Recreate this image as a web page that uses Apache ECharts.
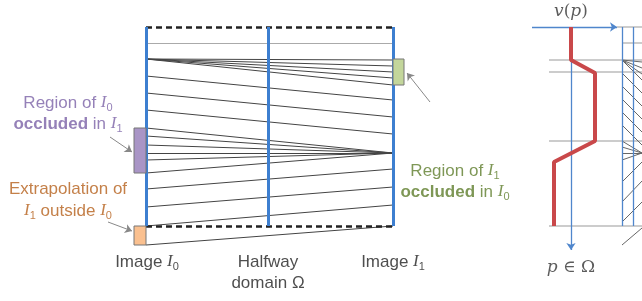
<!DOCTYPE html>
<html>
<head>
<meta charset="utf-8">
<title>Halfway domain correspondences</title>
<script src="https://cdn.jsdelivr.net/npm/echarts@6/dist/echarts.min.js"></script>
<style>
  html, body { margin: 0; padding: 0; background: #fff; }
  #main { width: 642px; height: 301px; }
</style>
</head>
<body>
<div id="main"></div>
<script>
// rows of image I0 (left edge) and where they land in image I1 (right edge)
var rowsI0 = [43, 59, 59, 59, 59, 59, 76, 93, 110, 128, 136, 145, 153, 160, 173, 189, 207, 226, 245];
var rowsI1 = [43, 60, 66, 72, 78, 85, 100, 117, 134, 153, 153, 153, 153, 153, 153, 169, 187, 205, 226];
// columns: image I0, halfway domain, image I1
var columns = [146, 268, 393];
var domainRows = [27, 226];

// velocity profile v(p) along p
var profileP = [27, 60, 73, 141, 162, 226];
var profileV = [571, 571, 595, 595, 554, 554];
var profileRows = [60, 72, 141, 226];

// clipped copy of the diagram at the right edge
var hatchFrom = [60, 60, 60, 60, 73, 86, 99, 112, 125, 141, 147, 153, 160, 182, 202, 222, 245];
var hatchTo = [62, 68, 74, 80, 93, 106, 119, 132, 145, 153, 153, 153, 153, 162, 181, 202, 228];

var C = { x0: columns[0], x1: columns[2] };

var matchLines = rowsI0.map(function (y, i) {
    return {
        coords: [[C.x0, y], [C.x1, rowsI1[i]]],
        lineStyle: i === 0 ? { color: '#aaa', width: 1.2 } : {}
    };
});

var blueCols = columns.map(function (x) {
    return { coords: [[x, domainRows[0]], [x, domainRows[1]]] };
});

var dashRows = domainRows.map(function (y) {
    return { coords: [[C.x0, y], [C.x1, y]] };
});

var hatch = hatchFrom.map(function (y, i) {
    return { coords: [[622, y], [642, hatchTo[i]]] };
});

var sub = function (d) { return '{it|I}{sub|' + d + '}'; };

function richFor(color) {
    return {
        it: { fontStyle: 'italic', color: color, fontSize: 17, fontFamily: 'Liberation Serif' },
        sub: { color: color, fontSize: 11, padding: [9, 0, 0, 0], fontFamily: 'Liberation Sans' },
        b: { fontWeight: 'bold', color: color, fontSize: 17 },
        t: { color: color, fontSize: 17 }
    };
}

var purple = '#7b62a6', brown = '#b5601c', green = '#5e7d2c', ink = '#222';

var texts = [
    { value: [68, 103], f: '{t|Region of }' + sub(0), c: purple },
    { value: [68, 124], f: '{b|occluded}{t| in }' + sub(1), c: purple },
    { value: [68, 189], f: '{t|Extrapolation of}', c: brown },
    { value: [68, 211], f: sub(1) + '{t| outside }' + sub(0), c: brown },
    { value: [455, 171], f: '{t|Region of }' + sub(1), c: green },
    { value: [455, 192], f: '{b|occluded}{t| in }' + sub(0), c: green },
    { value: [147, 262], f: '{t|Image }' + sub(0), c: ink },
    { value: [268, 262], f: '{t|Halfway}', c: ink },
    { value: [268, 283], f: '{t|domain Ω}', c: ink },
    { value: [393, 262], f: '{t|Image }' + sub(1), c: ink }
].map(function (d) {
    return {
        value: d.value,
        label: { formatter: d.f, rich: richFor(d.c) }
    };
});

var mathTexts = [
    { value: [571, 12], f: '{m|v}{n|(}{m|p}{n|)}' },
    { value: [571, 268], f: '{m|p}{n| ∈ Ω}' }
].map(function (d) {
    return { value: d.value, label: { formatter: d.f } };
});

var boxes = [
    { value: [134, 128, 146, 173], itemStyle: { color: '#a995c6' } },
    { value: [134, 226, 146, 245], itemStyle: { color: '#fac08f' } },
    { value: [393, 59, 404, 85], itemStyle: { color: '#c3d69b' } }
];

var callouts = [
    { coords: [[110, 137], [132, 152]] },
    { coords: [[108, 222], [132, 231]] },
    { coords: [[430, 102], [407, 73]] }
];

var option = {
    animation: false,
    grid: { left: 0, right: 0, top: 0, bottom: 0 },
    xAxis: { type: 'value', min: 0, max: 642, show: false },
    yAxis: { type: 'value', min: 0, max: 301, inverse: true, show: false },
    series: [
        {
            type: 'lines', coordinateSystem: 'cartesian2d', silent: true,
            lineStyle: { color: '#444', width: 1, opacity: 1 },
            data: matchLines, z: 2
        },
        {
            type: 'lines', coordinateSystem: 'cartesian2d', silent: true,
            lineStyle: { color: '#666', width: 1, opacity: 1 },
            data: hatch, z: 2
        },
        {
            type: 'lines', coordinateSystem: 'cartesian2d', silent: true,
            lineStyle: { color: '#222', width: 2.5, type: [6, 4], opacity: 1 },
            data: dashRows, z: 3
        },
        {
            type: 'lines', coordinateSystem: 'cartesian2d', silent: true,
            lineStyle: { color: '#3d7fd0', width: 3, opacity: 1 },
            data: blueCols, z: 4
        },
        {
            type: 'custom', silent: true, z: 5,
            renderItem: function (params, api) {
                var a = api.coord([api.value(0), api.value(1)]);
                var b = api.coord([api.value(2), api.value(3)]);
                return {
                    type: 'rect',
                    shape: { x: a[0], y: a[1], width: b[0] - a[0], height: b[1] - a[1] },
                    style: { fill: api.visual('color'), stroke: '#777', lineWidth: 1 }
                };
            },
            data: boxes
        },
        {
            type: 'lines', coordinateSystem: 'cartesian2d', silent: true,
            symbol: ['none', 'arrow'], symbolSize: 7,
            lineStyle: { color: '#888', width: 1, opacity: 1 },
            data: callouts, z: 5
        },
        // right hand side: profile of v(p)
        {
            type: 'lines', coordinateSystem: 'cartesian2d', silent: true,
            lineStyle: { color: '#bbb', width: 1.5, opacity: 1 },
            data: profileRows.map(function (y) { return { coords: [[549, y], [642, y]] }; })
                .concat([{ coords: [[617, 27], [642, 27]] }, { coords: [[622, 43], [642, 43]] }]),
            z: 1
        },
        {
            type: 'lines', coordinateSystem: 'cartesian2d', silent: true,
            lineStyle: { color: '#4f86cc', width: 1.3, opacity: 1 },
            data: [{ coords: [[622, 27], [622, 226]] }, { coords: [[633, 27], [633, 226]] }],
            z: 3
        },
        {
            type: 'lines', coordinateSystem: 'cartesian2d', silent: true,
            symbol: ['none', 'arrow'], symbolSize: 7,
            lineStyle: { color: '#4f86cc', width: 1.3, opacity: 1 },
            data: [{ coords: [[532, 27], [617, 27]] }, { coords: [[571, 27], [571, 250]] }],
            z: 3
        },
        {
            type: 'line', silent: true, symbol: 'none', z: 6,
            lineStyle: { color: '#c9484a', width: 4 },
            data: profileP.map(function (p, i) { return [profileV[i], p]; })
        },
        {
            type: 'scatter', silent: true, symbolSize: 0, z: 10,
            label: { show: true, position: 'inside', fontFamily: 'Liberation Sans', fontSize: 17 },
            data: texts
        },
        {
            type: 'scatter', silent: true, symbolSize: 0, z: 10,
            label: {
                show: true, position: 'inside',
                rich: {
                    m: { fontFamily: 'DejaVu Serif', fontStyle: 'italic', fontSize: 17, color: '#333' },
                    n: { fontFamily: 'DejaVu Serif', fontSize: 17, color: '#333' }
                }
            },
            data: mathTexts
        }
    ]
};

var myChart = echarts.init(document.getElementById('main'));
myChart.setOption(option);
</script>
</body>
</html>
